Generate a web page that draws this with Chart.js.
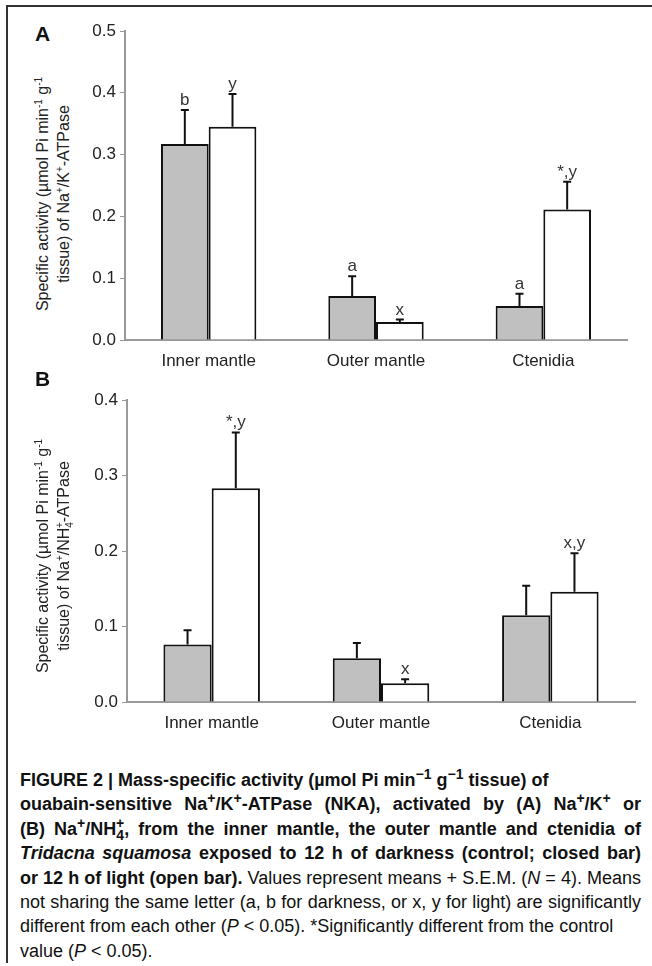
<!DOCTYPE html>
<html>
<head>
<meta charset="utf-8">
<script src="https://cdn.jsdelivr.net/npm/chart.js@4.4.1/dist/chart.umd.min.js"></script>
<style>
  body { margin: 0; background: #fff; font-family: "Liberation Sans", Arial, sans-serif; }
  #page { position: relative; width: 652px; height: 966px; overflow: hidden; }
  .frameTop { position: absolute; left: 6px; top: 5px; width: 646px; height: 2px; background: #333; }
  .frameLeft { position: absolute; left: 6px; top: 5px; width: 2px; height: 958px; background: #333; }
  .panel { position: absolute; left: 0; width: 652px; }
  .letter { position: absolute; font-weight: bold; font-size: 21px; color: #111; }
  .ytitle { position: absolute; width: 300px; text-align: center; font-size: 16px; line-height: 21px; color: #222; transform: rotate(-90deg); }
  .ytitle sup { font-size: 10px; line-height: 0; }
  .ytitle sub { font-size: 10px; line-height: 0; }
  #caption { position: absolute; left: 20px; top: 768px; width: 621px; font-family: "Liberation Sans Narrow", "Liberation Sans", sans-serif; font-size: 18px; color: #111; }
  #caption div { height: 24.4px; line-height: 24.4px; white-space: nowrap; }
  #caption .j { text-align: justify; text-align-last: justify; white-space: normal; }
  #caption sup, #caption sub { font-size: 14px; line-height: 0; }
</style>
</head>
<body>
<div id="page">
  <div class="frameTop"></div>
  <div class="frameLeft"></div>

  <div class="letter" style="left:35px; top:22px;">A</div>
  <div class="ytitle" style="left:-97px; top:173px;">Specific activity (µmol Pi min<sup>-1</sup> g<sup>-1</sup><br>tissue) of Na<sup>+</sup>/K<sup>+</sup>-ATPase</div>
  <div class="panel" style="top:0; height:380px;"><canvas id="chartA"></canvas></div>

  <div class="letter" style="left:35px; top:367px;">B</div>
  <div class="ytitle" style="left:-97px; top:535px;">Specific activity (µmol Pi min<sup>-1</sup> g<sup>-1</sup><br>tissue) of Na<sup>+</sup>/NH<sub>4</sub><sup style="margin-left:-6px">+</sup>-ATPase</div>
  <div class="panel" style="top:380px; height:360px;"><canvas id="chartB"></canvas></div>

  <div id="caption">
    <div><b>FIGURE 2 | Mass-specific activity (µmol Pi min<sup>−1</sup> g<sup>−1</sup> tissue) of</b></div>
    <div class="j"><b>ouabain-sensitive Na<sup>+</sup>/K<sup>+</sup>-ATPase (NKA), activated by (A) Na<sup>+</sup>/K<sup>+</sup> or</b></div>
    <div class="j"><b>(B) Na<sup>+</sup>/NH<sub>4</sub><sup style="margin-left:-8px">+</sup>, from the inner mantle, the outer mantle and ctenidia of</b></div>
    <div class="j"><b><i>Tridacna squamosa</i> exposed to 12 h of darkness (control; closed bar)</b></div>
    <div class="j"><b>or 12 h of light (open bar).</b> Values represent means + S.E.M. (<i>N</i> = 4). Means</div>
    <div class="j">not sharing the same letter (a, b for darkness, or x, y for light) are significantly</div>
    <div>different from each other (<i>P</i> &lt; 0.05). *Significantly different from the control</div>
    <div>value (<i>P</i> &lt; 0.05).</div>
  </div>
</div>

<script>
const categories = ['Inner mantle', 'Outer mantle', 'Ctenidia'];

// Panel A: Na+/K+-ATPase
const darkA = [0.317, 0.071, 0.055];
const darkASem = [0.055, 0.032, 0.020];
const darkALetters = ['b', 'a', 'a'];
const lightA = [0.345, 0.029, 0.211];
const lightASem = [0.053, 0.004, 0.045];
const lightALetters = ['y', 'x', '*,y'];
const ticksA = [0, 0.1, 0.2, 0.3, 0.4, 0.5];

// Panel B: Na+/NH4+-ATPase
const darkB = [0.076, 0.058, 0.115];
const darkBSem = [0.019, 0.020, 0.039];
const darkBLetters = ['', '', ''];
const lightB = [0.283, 0.025, 0.146];
const lightBSem = [0.074, 0.005, 0.051];
const lightBLetters = ['*,y', 'x', 'x,y'];
const ticksB = [0, 0.1, 0.2, 0.3, 0.4];

// error bars + significance letters
const errorBars = {
    id: 'errorBars',
    afterDatasetsDraw(chart) {
        const ctx = chart.ctx;
        const yScale = chart.scales.y;
        chart.data.datasets.forEach((ds, i) => {
            const meta = chart.getDatasetMeta(i);
            meta.data.forEach((bar, j) => {
                const top = yScale.getPixelForValue(ds.data[j] + ds.sem[j]);
                ctx.save();
                ctx.strokeStyle = '#111';
                ctx.lineWidth = 2;
                ctx.beginPath();
                ctx.moveTo(bar.x, bar.y);
                ctx.lineTo(bar.x, top);
                ctx.moveTo(bar.x - 4, top);
                ctx.lineTo(bar.x + 4, top);
                ctx.stroke();
                if (ds.letters[j]) {
                    ctx.fillStyle = '#333';
                    ctx.font = '17px "Liberation Sans", Arial, sans-serif';
                    ctx.textAlign = 'center';
                    ctx.textBaseline = 'alphabetic';
                    ctx.fillText(ds.letters[j], bar.x, top - 5);
                }
                ctx.restore();
            });
        });
    }
};

function makeChart(id, dark, darkSem, darkLetters, light, lightSem, lightLetters, ticks, pad) {
    const maxY = ticks[ticks.length - 1];
    return new Chart(document.getElementById(id), {
        type: 'bar',
        data: {
            labels: categories,
            datasets: [{
                label: 'Darkness',
                data: dark,
                sem: darkSem,
                letters: darkLetters,
                backgroundColor: '#c0c0c0',
                borderColor: '#111',
                borderWidth: 2
            }, {
                label: 'Light',
                data: light,
                sem: lightSem,
                letters: lightLetters,
                backgroundColor: '#ffffff',
                borderColor: '#111',
                borderWidth: 2
            }]
        },
        options: {
            responsive: true,
            maintainAspectRatio: false,
            animation: false,
            layout: { padding: { top: pad.top, right: pad.right, left: 0, bottom: 0 } },
            datasets: { bar: { categoryPercentage: 0.57, barPercentage: 1 } },
            plugins: { legend: { display: false }, tooltip: { enabled: false } },
            scales: {
                x: {
                    grid: { display: false, drawTicks: false },
                    border: { color: '#999', width: 2 },
                    ticks: { color: '#222', font: { size: 17, family: '"Liberation Sans", Arial' }, padding: 11 },
                    afterFit(scale) { scale.height = pad.xh; }
                },
                y: {
                    min: 0,
                    max: maxY,
                    afterBuildTicks(scale) { scale.ticks = ticks.map(v => ({ value: v })); },
                    grid: { drawOnChartArea: false, drawTicks: true, tickLength: 5, color: '#999' },
                    border: { color: '#999', width: 2 },
                    ticks: {
                        color: '#222',
                        font: { size: 17, family: '"Liberation Sans", Arial' },
                        padding: 4,
                        callback: v => Number(v).toFixed(1)
                    },
                    afterFit(scale) { scale.width = pad.yw; }
                }
            }
        },
        plugins: [errorBars]
    });
}

makeChart('chartA', darkA, darkASem, darkALetters, lightA, lightASem, lightALetters, ticksA,
    { top: 31, right: 25, xh: 40, yw: 125 });
makeChart('chartB', darkB, darkBSem, darkBLetters, lightB, lightBSem, lightBLetters, ticksB,
    { top: 20, right: 17, xh: 38, yw: 127 });
</script>
</body>
</html>
